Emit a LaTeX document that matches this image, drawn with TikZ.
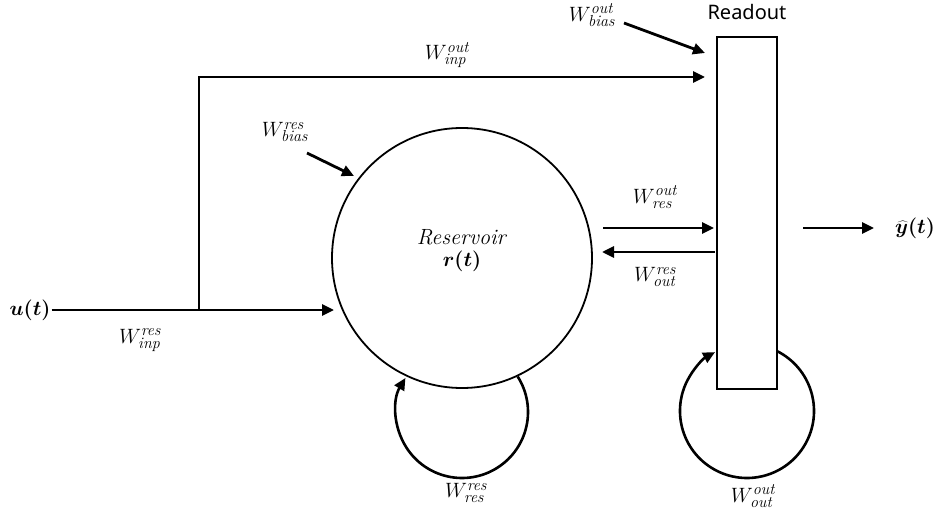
\documentclass[tikz,border=0pt]{standalone}
\usepackage{bm}
\usepackage{fontspec}
\newfontfamily\labelsans{Noto Sans}
\usetikzlibrary{arrows.meta}
% weight symbol with text-italic indices at a fixed size
\newcommand\idxfont{\fontsize{16}{16}\selectfont\itshape}
\newcommand\wlabel[2]{$W^{\mbox{\idxfont #1}}_{\mbox{\idxfont #2}}$}

\begin{document}
\begin{tikzpicture}[x=1pt,y=1pt,
  conn/.style={line width=2.8pt,-{Triangle[length=12pt,width=11pt]}},
  loopline/.style={line width=2.6pt,-{Triangle[length=12pt,width=11pt]}},
  outline/.style={draw,line width=1.8pt,inner sep=0pt},
  lbl/.style={font=\fontsize{20}{24}\selectfont,inner sep=1pt},
  sanslbl/.style={font=\labelsans\fontsize{20}{24}\selectfont,inner sep=1pt}]
\useasboundingbox (0,0) rectangle (943,515);

% reservoir and readout
\node[outline,circle,minimum size=260pt] (res) at (462,257) {};
\node[inner sep=1pt,font=\fontsize{22}{26}\selectfont] (resname) at (462,278) {\textit{Reservoir}};
\node[lbl] (resstate) at (462,254) {$\bm{r(t)}$};
\node[outline,rectangle,minimum width=60pt,minimum height=352pt] (ro) at (747,302) {};
\node[sanslbl] (rolabel) at (747,503) {Readout};

% input
\node[lbl] (u) at (30,205) {$\bm{u(t)}$};
\coordinate (uin) at (334,205);
\coordinate (j) at (199,205);
\coordinate (jtop) at (199,438);
\coordinate (topin) at (705,438);
\draw[conn] (u) -- (uin);
\draw[conn] (j) -- (jtop) -- (topin);
\node[lbl] (winpres) at (140,175) {\wlabel{res}{inp}};
\node[lbl] (winpout) at (447,460) {\wlabel{out}{inp}};

% biases
\node[lbl] (wbiasout) at (592,500) {\wlabel{out}{bias}};
\coordinate (bo1) at (624,492);
\coordinate (bo2) at (705,462);
\draw[conn] (bo1) -- (bo2);
\node[lbl] (wbiasres) at (285,383) {\wlabel{res}{bias}};
\coordinate (br1) at (307,362);
\coordinate (br2) at (354,339);
\draw[conn] (br1) -- (br2);

% reservoir <-> readout
\coordinate (fw1) at (603,287);
\coordinate (fw2) at (714,287);
\coordinate (bw1) at (715,263);
\coordinate (bw2) at (602,263);
\draw[conn] (fw1) -- (fw2);
\draw[conn] (bw1) -- (bw2);
\node[lbl] (wresout) at (655,318) {\wlabel{out}{res}};
\node[lbl] (woutres) at (655,238) {\wlabel{res}{out}};

% output
\coordinate (o1) at (803,287);
\coordinate (o2) at (874,287);
\draw[conn] (o1) -- (o2);
\node[lbl,inner sep=0pt] (yhat) at (915,287) {$\widehat{\bm y}\bm{(t)}$};

% recurrent loops
\coordinate (rl) at (462,103);
\draw[loopline] ([shift={(32.5:66)}]rl) arc[start angle=32.5,end angle=-211,radius=66];
\node[lbl] (wresres) at (466,22) {\wlabel{res}{res}};
\coordinate (ol) at (747,104);
\draw[loopline] ([shift={(63:67)}]ol) arc[start angle=63,end angle=-241.5,radius=67];
\node[lbl] (woutout) at (753,19) {\wlabel{out}{out}};
\end{tikzpicture}
\end{document}
